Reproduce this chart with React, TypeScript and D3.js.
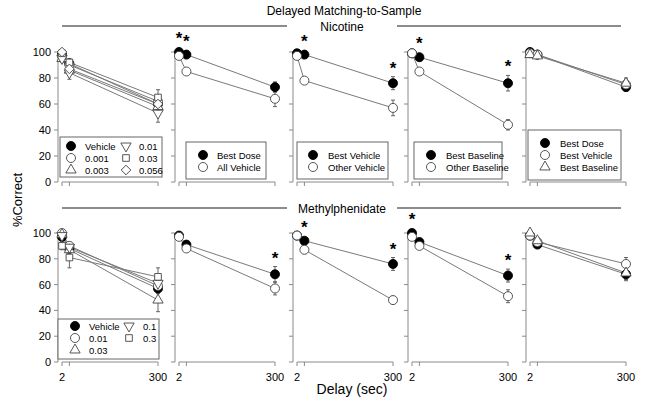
import * as d3 from "d3";

// delays (sec) on the x axis
const DELAYS = [2, 25, 300];
const Y_TICKS = [0, 20, 40, 60, 80, 100];

// ---- Nicotine row ----
const nicDoseLabels = ["Vehicle", "0.001", "0.003", "0.01", "0.03", "0.056"];
const nicDoseShapes = ["filled", "open", "triUp", "triDown", "square", "diamond"];
const nicDoseMeans = [
  [98, 91, 60],
  [97, 90, 62],
  [95, 86, 58],
  [95, 84, 53],
  [99, 92, 65],
  [100, 87, 60],
];
const nicDoseSem = [
  [2, 3, 5],
  [2, 3, 5],
  [2, 3, 5],
  [3, 5, 7],
  [1, 3, 6],
  [1, 3, 5],
];

const nicBestDoseLabels = ["Best Dose", "All Vehicle"];
const nicBestDoseMeans = [
  [100, 98, 73],
  [97, 85, 64],
];
const nicBestDoseSem = [
  [1, 1, 4],
  [1, 2, 6],
];

const nicVehicleLabels = ["Best Vehicle", "Other Vehicle"];
const nicVehicleMeans = [
  [99, 98, 76],
  [97, 78, 57],
];
const nicVehicleSem = [
  [1, 1, 5],
  [1, 2, 6],
];

const nicBaselineLabels = ["Best Baseline", "Other Baseline"];
const nicBaselineMeans = [
  [99, 96, 76],
  [99, 85, 44],
];
const nicBaselineSem = [
  [1, 2, 6],
  [1, 2, 4],
];

const nicCompareLabels = ["Best Dose", "Best Vehicle", "Best Baseline"];
const nicCompareMeans = [
  [100, 98, 73],
  [99, 98, 75],
  [98, 97, 76],
];
const nicCompareSem = [
  [1, 1, 3],
  [1, 1, 4],
  [1, 1, 4],
];

// ---- Methylphenidate row ----
const mphDoseLabels = ["Vehicle", "0.01", "0.03", "0.1", "0.3"];
const mphDoseShapes = ["filled", "open", "triUp", "triDown", "square"];
const mphDoseMeans = [
  [97, 88, 57],
  [100, 90, 59],
  [99, 87, 48],
  [98, 89, 61],
  [90, 81, 66],
];
const mphDoseSem = [
  [2, 3, 4],
  [1, 3, 5],
  [1, 3, 9],
  [2, 3, 5],
  [3, 8, 7],
];

const mphBestDoseMeans = [
  [98, 91, 68],
  [97, 88, 57],
];
const mphBestDoseSem = [
  [1, 2, 6],
  [1, 2, 5],
];

const mphVehicleMeans = [
  [98, 94, 76],
  [98, 87, 48],
];
const mphVehicleSem = [
  [1, 2, 5],
  [1, 3, 3],
];

const mphBaselineMeans = [
  [100, 93, 67],
  [97, 90, 51],
];
const mphBaselineSem = [
  [1, 2, 5],
  [1, 2, 5],
];

const mphCompareMeans = [
  [98, 91, 68],
  [98, 93, 76],
  [100, 94, 69],
];
const mphCompareSem = [
  [1, 2, 5],
  [1, 2, 5],
  [1, 2, 5],
];

// significance stars: [series, delay index]
const nicStars = [[], [[0, 0], [0, 1]], [[0, 1], [0, 2]], [[0, 1], [0, 2]], []];
const mphStars = [[], [[0, 2]], [[0, 1], [0, 2]], [[0, 0], [0, 2]], []];

type Series = { label: string; shape: string; means: number[]; sem: number[] };

const mk = (labels: string[], shapes: string[], means: number[][], sem: number[][]): Series[] =>
  means.map((m, i) => ({ label: labels[i] ?? "", shape: shapes[i], means: m, sem: sem[i] }));

const TWO = ["filled", "open"];
const THREE = ["filled", "open", "triUp"];

const rows = [
  {
    title: "Nicotine",
    titleY: 27,
    top: 52,
    bottom: 182,
    stars: nicStars,
    panels: [
      mk(nicDoseLabels, nicDoseShapes, nicDoseMeans, nicDoseSem),
      mk(nicBestDoseLabels, TWO, nicBestDoseMeans, nicBestDoseSem),
      mk(nicVehicleLabels, TWO, nicVehicleMeans, nicVehicleSem),
      mk(nicBaselineLabels, TWO, nicBaselineMeans, nicBaselineSem),
      mk(nicCompareLabels, THREE, nicCompareMeans, nicCompareSem),
    ],
    // legend boxes (layout)
    legends: [
      { x: 60, y: 137, w: 102, h: 40, cols: [[71, 85], [126, 139]], rows: [146, 158, 170] },
      { x: 186, y: 142, w: 80, h: 37, cols: [[203, 217]], rows: [155, 167] },
      { x: 297, y: 142, w: 91, h: 37, cols: [[313, 328]], rows: [155, 167] },
      { x: 414, y: 142, w: 88, h: 37, cols: [[431, 446]], rows: [155, 167] },
      { x: 528, y: 130, w: 93, h: 50, cols: [[545, 560]], rows: [143, 155, 167] },
    ],
    xLabels: false,
  },
  {
    title: "Methylphenidate",
    titleY: 209,
    top: 233,
    bottom: 362,
    stars: mphStars,
    panels: [
      mk(mphDoseLabels, mphDoseShapes, mphDoseMeans, mphDoseSem),
      mk([], TWO, mphBestDoseMeans, mphBestDoseSem),
      mk([], TWO, mphVehicleMeans, mphVehicleSem),
      mk([], TWO, mphBaselineMeans, mphBaselineSem),
      mk([], THREE, mphCompareMeans, mphCompareSem),
    ],
    legends: [
      { x: 58, y: 319, w: 101, h: 40, cols: [[75, 89], [129, 143]], rows: [326, 338, 350] },
      null,
      null,
      null,
      null,
    ],
    xLabels: true,
  },
];

const SPINES = [58, 175, 293, 408, 526];
const FONT = "'Liberation Sans', Arial, sans-serif";
const AXIS = "#8a8a8a";
const LINE = "#7a7a7a";

function Marker({ shape, x, y }: { shape: string; x: number; y: number }) {
  let type: d3.SymbolType = d3.symbolCircle;
  let size = 64;
  let rot = 0;
  if (shape === "triUp") { type = d3.symbolTriangle; size = 46; }
  if (shape === "triDown") { type = d3.symbolTriangle; size = 46; rot = 180; }
  if (shape === "square") { type = d3.symbolSquare; size = 44; }
  if (shape === "diamond") { type = d3.symbolSquare; size = 46; rot = 45; }
  const filled = shape === "filled";
  return (
    <path
      d={d3.symbol().type(type).size(size)() ?? ""}
      transform={`translate(${x},${y}) rotate(${rot})`}
      fill={filled ? "#000" : "#fff"}
      stroke={filled ? "#000" : "#444"}
      strokeWidth={0.9}
    />
  );
}

export default function App() {
  return (
    <svg
      width={645}
      height={415}
      style={{ position: "absolute", left: 0, top: 0, background: "#fff" }}
      fontFamily={FONT}
    >
      <text x={344} y={11} fontSize={12} textAnchor="middle" dominantBaseline="central">
        Delayed Matching-to-Sample
      </text>
      <text
        transform="translate(17,200) rotate(-90)"
        fontSize={13}
        textAnchor="middle"
        dominantBaseline="central"
      >
        %Correct
      </text>
      <text x={352} y={389} fontSize={14} textAnchor="middle" dominantBaseline="central">
        Delay (sec)
      </text>

      {rows.map((row, ri) => {
        const y = d3.scaleLinear().domain([0, 100]).range([row.bottom, row.top]);
        return (
          <g key={ri}>
            <text x={342} y={row.titleY} fontSize={12} textAnchor="middle" dominantBaseline="central">
              {row.title}
            </text>
            <line x1={62} x2={287} y1={row.titleY - 1} y2={row.titleY - 1} stroke="#666" strokeWidth={1.6} />
            <line x1={397} x2={621} y1={row.titleY - 1} y2={row.titleY - 1} stroke="#666" strokeWidth={1.6} />

            {row.panels.map((series, pi) => {
              const x = d3.scaleLinear().domain([-10.4, 300]).range([SPINES[pi], SPINES[pi] + 100]);
              const line = d3
                .line<number>()
                .x((_, i) => x(DELAYS[i]))
                .y((d) => y(d));
              const legend = row.legends[pi];
              return (
                <g key={pi}>
                  {/* y axis */}
                  <line x1={SPINES[pi]} x2={SPINES[pi]} y1={y(0)} y2={y(100)} stroke={AXIS} />
                  {Y_TICKS.map((t) => (
                    <g key={t}>
                      <line x1={SPINES[pi] - 4} x2={SPINES[pi]} y1={y(t)} y2={y(t)} stroke={AXIS} />
                      {pi === 0 && (
                        <text
                          x={SPINES[pi] - 7}
                          y={y(t)}
                          fontSize={11}
                          textAnchor="end"
                          dominantBaseline="central"
                        >
                          {t}
                        </text>
                      )}
                    </g>
                  ))}
                  {/* x axis */}
                  <line x1={x(2)} x2={x(300)} y1={y(0)} y2={y(0)} stroke={AXIS} />
                  {DELAYS.map((d) => (
                    <line key={d} x1={x(d)} x2={x(d)} y1={y(0)} y2={y(0) + 4} stroke={AXIS} />
                  ))}
                  {row.xLabels &&
                    [2, 300].map((d) => (
                      <text
                        key={d}
                        x={x(d)}
                        y={y(0) + 15}
                        fontSize={11}
                        textAnchor="middle"
                        dominantBaseline="central"
                      >
                        {d}
                      </text>
                    ))}

                  {/* connecting lines */}
                  {series.map((s, si) => (
                    <path key={si} d={line(s.means) ?? ""} fill="none" stroke={LINE} strokeWidth={1} />
                  ))}
                  {/* error bars */}
                  {series.map((s, si) =>
                    s.means.map((m, di) => {
                      const cx = x(DELAYS[di]);
                      return (
                        <g key={`${si}-${di}`} stroke="#555" strokeWidth={0.9}>
                          <line x1={cx} x2={cx} y1={y(m - s.sem[di])} y2={y(Math.min(m + s.sem[di], 101))} />
                          <line x1={cx - 2} x2={cx + 2} y1={y(m - s.sem[di])} y2={y(m - s.sem[di])} />
                          <line x1={cx - 2} x2={cx + 2} y1={y(m + s.sem[di])} y2={y(m + s.sem[di])} />
                        </g>
                      );
                    })
                  )}
                  {/* markers */}
                  {series.map((s, si) =>
                    s.means.map((m, di) => (
                      <Marker key={`${si}-${di}`} shape={s.shape} x={x(DELAYS[di])} y={y(m)} />
                    ))
                  )}
                  {/* stars */}
                  {row.stars[pi].map(([si, di], k) => {
                    const s = series[si];
                    const top = Math.min(y(s.means[di] + s.sem[di]), y(s.means[di]) - 5);
                    return (
                      <text
                        key={k}
                        x={x(DELAYS[di])}
                        y={top - 3}
                        fontSize={17}
                        fontWeight="bold"
                        textAnchor="middle"
                      >
                        *
                      </text>
                    );
                  })}

                  {/* legend */}
                  {legend && (
                    <g>
                      <rect x={legend.x} y={legend.y} width={legend.w} height={legend.h} fill="#fff" stroke="#666" strokeWidth={1} />
                      {series.map((s, si) => {
                        const col = legend.cols[Math.floor(si / legend.rows.length)];
                        const ry = legend.rows[si % legend.rows.length];
                        return (
                          <g key={si}>
                            <Marker shape={s.shape} x={col[0]} y={ry} />
                            <text x={col[1]} y={ry} fontSize={9.5} dominantBaseline="central">
                              {s.label}
                            </text>
                          </g>
                        );
                      })}
                    </g>
                  )}
                </g>
              );
            })}
          </g>
        );
      })}
    </svg>
  );
}
